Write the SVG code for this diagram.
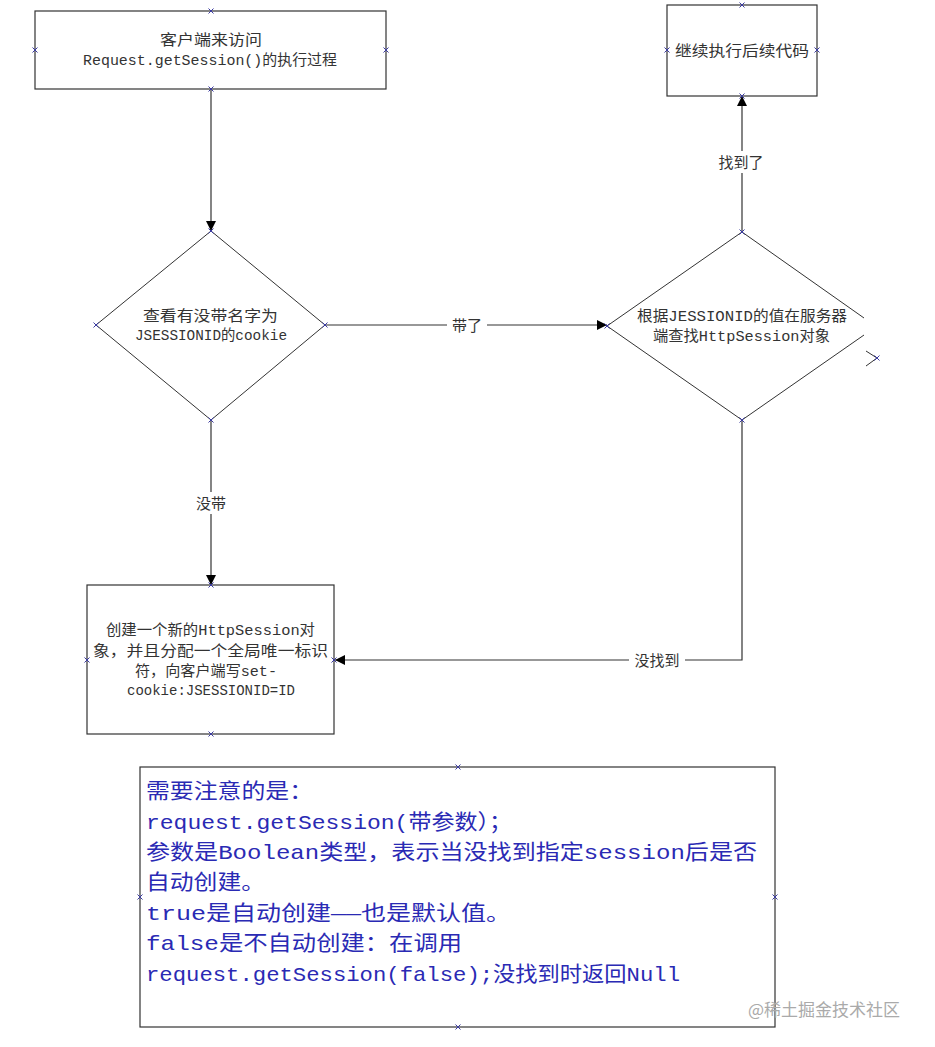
<svg xmlns="http://www.w3.org/2000/svg" xmlns:xlink="http://www.w3.org/1999/xlink" width="935" height="1047" viewBox="0 0 935 1047">
<style>
.box{fill:#fff;stroke:#333;stroke-width:1.2}
.dia{fill:#fff;stroke:#333;stroke-width:1}
.t{font-family:"Liberation Mono","Noto Sans CJK SC",monospace;font-size:15px;fill:#333}
.lbl{font-family:"Noto Sans CJK SC",sans-serif;font-size:15px;fill:#333;text-anchor:middle}
.note{font-family:"Liberation Mono","Noto Sans CJK SC",monospace;font-size:21px;fill:#2a2ab4}
.con{fill:none;stroke:#333;stroke-width:1.2}
.mk{stroke:#3a3aa0;stroke-width:1;fill:none}
</style>
<defs>
<marker id="arr" viewBox="0 0 10 10" refX="10" refY="5" markerWidth="10" markerHeight="10" markerUnits="userSpaceOnUse" orient="auto">
<path d="M0,0 L10,5 L0,10 Z" fill="#000"/>
</marker>
<symbol id="x" overflow="visible"><path class="mk" d="M-2.5,-2.5 L2.5,2.5 M-2.5,2.5 L2.5,-2.5"/></symbol>
</defs>
<rect width="935" height="1047" fill="#fff"/>

<g id="connectors">
<line class="con" x1="211" y1="89" x2="211" y2="231" marker-end="url(#arr)"/>
<line class="con" x1="325" y1="325" x2="607" y2="325" marker-end="url(#arr)"/>
<line class="con" x1="742" y1="232" x2="742" y2="96" marker-end="url(#arr)"/>
<polyline class="con" points="742,420 742,660 335,660" marker-end="url(#arr)"/>
<line class="con" x1="211" y1="420" x2="211" y2="585" marker-end="url(#arr)"/>
<rect x="447" y="315" width="40" height="20" fill="#fff"/>
<text class="lbl" x="467" y="331">带了</text>
<rect x="714" y="151" width="55" height="22" fill="#fff"/>
<text class="lbl" x="741" y="168">找到了</text>
<rect x="629" y="650" width="56" height="20" fill="#fff"/>
<text class="lbl" x="657" y="666">没找到</text>
<rect x="191" y="492" width="40" height="22" fill="#fff"/>
<text class="lbl" x="211" y="509">没带</text>
</g>

<g id="start">
<rect class="box" x="35" y="11" width="351" height="78"/>
<text class="t" x="160" y="45" textLength="102" lengthAdjust="spacingAndGlyphs">客户端来访问</text>
<text class="t" x="83" y="65" textLength="254" lengthAdjust="spacingAndGlyphs">Request.getSession()的执行过程</text>
<use xlink:href="#x" x="211" y="11"/><use xlink:href="#x" x="35" y="50"/><use xlink:href="#x" x="386" y="50"/><use xlink:href="#x" x="211" y="89"/>
</g>

<g id="continue">
<rect class="box" x="667" y="5" width="150" height="91"/>
<text class="t" x="675" y="56" textLength="134" lengthAdjust="spacingAndGlyphs">继续执行后续代码</text>
<use xlink:href="#x" x="742" y="5"/><use xlink:href="#x" x="667" y="50"/><use xlink:href="#x" x="817" y="50"/><use xlink:href="#x" x="742" y="96"/>
</g>

<g id="check">
<polygon class="dia" points="211,231 325,325 211,420 96,325"/>
<text class="t" x="143" y="321" textLength="135" lengthAdjust="spacingAndGlyphs">查看有没带名字为</text>
<text class="t" x="135" y="340" textLength="152" lengthAdjust="spacingAndGlyphs">JSESSIONID的cookie</text>
<use xlink:href="#x" x="211" y="231"/><use xlink:href="#x" x="96" y="325"/><use xlink:href="#x" x="325" y="325"/><use xlink:href="#x" x="211" y="420"/>
</g>

<g id="lookup">
<path class="dia" d="M864,318 L742,232 L607,326 L742,420 L864,335"/>
<path class="dia" fill="none" d="M866,351 L877,358 L866,366"/>
<text class="t" x="637" y="321" textLength="210" lengthAdjust="spacingAndGlyphs">根据JESSIONID的值在服务器</text>
<text class="t" x="653" y="341" textLength="177" lengthAdjust="spacingAndGlyphs">端查找HttpSession对象</text>
<use xlink:href="#x" x="742" y="232"/><use xlink:href="#x" x="607" y="326"/><use xlink:href="#x" x="877" y="358"/><use xlink:href="#x" x="742" y="420"/>
</g>

<g id="create">
<rect class="box" x="87" y="585" width="247" height="149"/>
<text class="t" x="106" y="635" textLength="209" lengthAdjust="spacingAndGlyphs">创建一个新的HttpSession对</text>
<text class="t" x="93" y="656" textLength="235" lengthAdjust="spacingAndGlyphs">象，并且分配一个全局唯一标识</text>
<text class="t" x="135" y="676" textLength="142" lengthAdjust="spacingAndGlyphs">符，向客户端写set-</text>
<text class="t" x="127" y="695" textLength="168" lengthAdjust="spacingAndGlyphs">cookie:JSESSIONID=ID</text>
<use xlink:href="#x" x="211" y="585"/><use xlink:href="#x" x="87" y="660"/><use xlink:href="#x" x="334" y="660"/><use xlink:href="#x" x="211" y="734"/>
</g>

<g id="note">
<rect class="box" x="140" y="767" width="635" height="260"/>
<text class="note" x="146" y="798" textLength="167" lengthAdjust="spacingAndGlyphs">需要注意的是：</text>
<text class="note" x="146" y="829" textLength="366" lengthAdjust="spacingAndGlyphs">request.getSession(带参数）；</text>
<text class="note" x="146" y="859" textLength="611" lengthAdjust="spacingAndGlyphs">参数是Boolean类型，表示当没找到指定session后是否</text>
<text class="note" x="146" y="889" textLength="119" lengthAdjust="spacingAndGlyphs">自动创建。</text>
<text class="note" x="146" y="920" textLength="365" lengthAdjust="spacingAndGlyphs">true是自动创建——也是默认值。</text>
<text class="note" x="146" y="950" textLength="316" lengthAdjust="spacingAndGlyphs">false是不自动创建：在调用</text>
<text class="note" x="146" y="981" textLength="534" lengthAdjust="spacingAndGlyphs">request.getSession(false);没找到时返回Null</text>
<use xlink:href="#x" x="458" y="767"/><use xlink:href="#x" x="140" y="897"/><use xlink:href="#x" x="775" y="897"/><use xlink:href="#x" x="458" y="1027"/>
</g>

<text x="748" y="1016" style="font-family:'Noto Sans CJK SC',sans-serif;font-size:17px;fill:#aaa">@稀土掘金技术社区</text>
</svg>
